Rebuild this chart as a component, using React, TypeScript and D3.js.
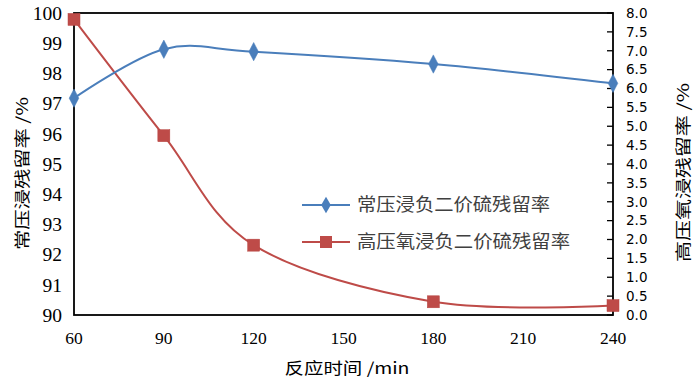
import React from "react";
import * as d3 from "d3";

const times = [60, 90, 120, 180, 240];
const atmSeries = [97.18, 98.8, 98.72, 98.31, 97.67];
const oxySeries = [7.83, 4.75, 1.85, 0.35, 0.25];
const xTicks = [60, 90, 120, 150, 180, 210, 240];
const leftTicks = [90, 91, 92, 93, 94, 95, 96, 97, 98, 99, 100];
const rightTicks = d3.range(0, 8.01, 0.5);
const seriesNames = ["常压浸负二价硫残留率", "高压氧浸负二价硫残留率"];
const xTitle = "反应时间 /min";
const leftTitle = "常压浸残留率 /%";
const rightTitle = "高压氧浸残留率 /%";

const W = 700, H = 383;
const L = 74, R = 613, T = 13, B = 315;
const BLUE = "#4a7ebb";
const RED = "#be4b48";

export default function App() {
  const x = d3.scaleLinear().domain([60, 240]).range([L, R]);
  const yL = d3.scaleLinear().domain([90, 100]).range([B, T]);
  const yR = d3.scaleLinear().domain([0, 8]).range([B, T]);
  const curve = d3.curveCardinal.tension(0);
  const blueLine = d3.line<number>().x((_, i) => x(times[i])).y((d) => yL(d)).curve(curve);
  const redLine = d3.line<number>().x((_, i) => x(times[i])).y((d) => yR(d)).curve(curve);
  const diamond = d3.symbol().type(d3.symbolDiamond).size(80)();
  const serif = "'Liberation Serif', 'Times New Roman', serif";
  const cjk = "'Noto Sans CJK SC', sans-serif";

  return (
    <svg width={W} height={H} style={{ position: "absolute", left: 0, top: 0, background: "#fff" }}>
      {/* frame */}
      <rect x={L} y={T} width={R - L} height={B - T} fill="none" stroke="#000" strokeWidth={1.8} />
      {/* right ticks inward */}
      {rightTicks.map((t) => (
        <line key={"rt" + t} x1={R - 6} x2={R} y1={yR(t)} y2={yR(t)} stroke="#000" strokeWidth={1.3} />
      ))}
      {/* left labels */}
      {leftTicks.map((t) => (
        <text key={"lt" + t} x={62} y={yL(t)} dy="0.35em" textAnchor="end" fontFamily={serif} fontSize={19.5} fill="#000">
          {t}
        </text>
      ))}
      {/* right labels */}
      {rightTicks.map((t) => (
        <text key={"rl" + t} x={626} y={yR(t)} dy="0.36em" textAnchor="start" fontFamily="'DejaVu Sans', sans-serif" fontSize={13.5} fill="#000">
          {t.toFixed(1)}
        </text>
      ))}
      {/* x labels */}
      {xTicks.map((t) => (
        <text key={"xt" + t} x={x(t)} y={344} textAnchor="middle" fontFamily={serif} fontSize={17.5} fill="#000">
          {t}
        </text>
      ))}
      {/* titles */}
      <text x={347} y={374} textAnchor="middle" fontFamily={cjk} fontSize={16} fill="#000" textLength={125} lengthAdjust="spacingAndGlyphs">
        {xTitle}
      </text>
      <text transform={`translate(21,173.5) rotate(-90)`} textAnchor="middle" dominantBaseline="central" fontFamily={cjk} fontSize={16} fill="#000" textLength={153} lengthAdjust="spacingAndGlyphs">
        {leftTitle}
      </text>
      <text transform={`translate(682,172.5) rotate(-90)`} textAnchor="middle" dominantBaseline="central" fontFamily={cjk} fontSize={16} fill="#000" textLength={179} lengthAdjust="spacingAndGlyphs">
        {rightTitle}
      </text>
      {/* series */}
      <path d={redLine(oxySeries) || ""} fill="none" stroke={RED} strokeWidth={2} />
      <path d={blueLine(atmSeries) || ""} fill="none" stroke={BLUE} strokeWidth={2} />
      {oxySeries.map((v, i) => (
        <rect key={"rm" + i} x={x(times[i]) - 6} y={yR(v) - 6} width={12} height={12} fill={RED} stroke="#b84440" strokeWidth={0.5} />
      ))}
      {atmSeries.map((v, i) => (
        <path key={"bm" + i} d={diamond || ""} transform={`translate(${x(times[i])},${yL(v)}) scale(1,1.1)`} fill={BLUE} stroke={BLUE} strokeWidth={0.5} />
      ))}
      {/* legend */}
      <g>
        <line x1={302} x2={350} y1={205} y2={205} stroke={BLUE} strokeWidth={2} />
        <path d={diamond || ""} transform={`translate(326,205)`} fill={BLUE} />
        <text x={357} y={205} dy="0.35em" fontFamily={cjk} fontSize={18} fill="#404040" textLength={193} lengthAdjust="spacingAndGlyphs">
          {seriesNames[0]}
        </text>
        <line x1={302} x2={350} y1={242} y2={242} stroke={RED} strokeWidth={2} />
        <rect x={320} y={236} width={12} height={12} fill={RED} />
        <text x={357} y={242} dy="0.35em" fontFamily={cjk} fontSize={18} fill="#404040" textLength={213} lengthAdjust="spacingAndGlyphs">
          {seriesNames[1]}
        </text>
      </g>
    </svg>
  );
}
